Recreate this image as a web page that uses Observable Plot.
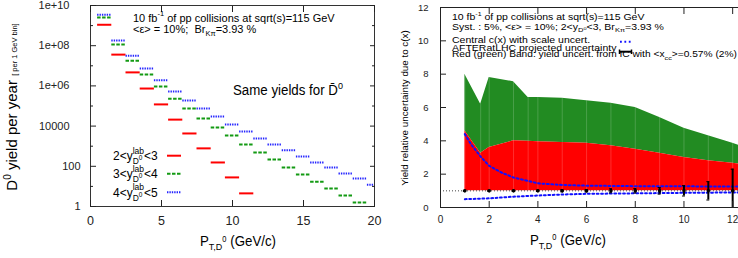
<!DOCTYPE html>
<html><head><meta charset="utf-8">
<script src="https://cdn.jsdelivr.net/npm/d3@7"></script>
<script src="https://cdn.jsdelivr.net/npm/@observablehq/plot@0.6"></script>
<style>
html,body{margin:0;padding:0;background:#fff;}
#wrap{position:relative;width:738px;height:258px;overflow:hidden;font-family:"Liberation Sans",Arial,sans-serif;background:#fff;}
#wrap svg{position:absolute;top:0;}
#overlay{left:0;pointer-events:none;white-space:pre;}
</style></head><body><div id="wrap"></div>
<script>
// ---------- Left panel data: D0 yield per year per 1 GeV bin ----------
const binWidth = 1;
const ptRed = [1,2,3,4,5,6,7,8,9,10,11];
const yieldRed = [1.1e9, 3.6e7, 4.7e6, 7.4e5, 1.2e5, 2.1e4, 4.3e3, 780, 155, 28, 4.5];
const ptGreen = [1,2,3,4,5,6,7,8,9,10,11,12,13,14,15,16,17,18,19];
const yieldGreen = [2.5e9, 1.15e8, 1.8e7, 3.7e6, 9.3e5, 2.3e5, 7.6e4, 2.4e4, 8.5e3, 3.4e3, 1.2e3, 490, 220, 87, 39, 17, 7.9, 3.5, 1.6];
const ptBlue = [1,2,3,4,5,6,7,8,9,10,11,12,13,14,15,16,17,18,19,20];
const yieldBlue = [3.5e9, 1.8e8, 3.2e7, 7.4e6, 1.9e6, 5.2e5, 1.9e5, 7.6e4, 3.0e4, 1.2e4, 5.4e3, 2.4e3, 1.2e3, 620, 310, 155, 87, 44, 25, 12];
const leftXTicks = [0,5,10,15,20];
const leftYTicksLong = [1e4, 1e6, 1e8, 1e10];
const leftYLabelsLong = ["10000","1e+06","1e+08","1e+10"];
const leftYTicksShort = [1, 100];
const leftYLabelsShort = ["1","100"];
const leftYMinor = [10, 1e3, 1e5, 1e7, 1e9];

// ---------- Right panel data: relative uncertainty ----------
const bandPt =       [1,   1.65, 2,   3,    3.6,  4,    5,    6,    7,    8,   9,    10,   11,  12,   13];
const bandGreenTop = [8.0, 6.2,  7.8, 7.55, 6.6,  6.6,  6.55, 6.4,  6.25, 6.0, 5.4,  4.75, 4.3, 3.85, 3.4];
const bandRedTop =   [4.6, 3.25, 3.6, 4.0,  3.97, 3.95, 3.9,  3.85, 3.7,  3.5, 3.25, 3.0,  2.8, 2.65, 2.5];
const bandBase = 1;
const scalePt =    [1,   1.25, 1.65, 2,    2.5, 3,    4,    5,    6,    8,    10,   12,   13];
const scaleUpper = [4.4, 3.8,  3.05, 2.5,  2.1, 1.8,  1.45, 1.35, 1.31, 1.28, 1.27, 1.26, 1.25];
const scaleLower = [0.5, 0.51, 0.53, 0.55, 0.6, 0.65, 0.72, 0.78, 0.82, 0.85, 0.88, 0.9,  0.91];
const errPt =   [1,    2,    3,    4,    5,    6,    7,    8,    9,   10,   11,   12];
const errSize = [0.03, 0.03, 0.03, 0.04, 0.06, 0.07, 0.12, 0.13, 0.2, 0.31, 0.55, 1.3];
const errCenter = 1;
const rightXTicks = [0,2,4,6,8,10,12];
const rightYTicks = [0,2,4,6,8,10,12];

const FONT = '"Liberation Sans",Arial,sans-serif';
const wrap = d3.select("#wrap");

const seg = (pts, vals) => pts.map((p,i)=>({pt:p, v:vals[i]}));
const fmtLong = d => leftYLabelsLong[leftYTicksLong.indexOf(d)];
const fmtShort = d => leftYLabelsShort[leftYTicksShort.indexOf(d)];

const left = Plot.plot({
  width: 392, height: 258,
  marginLeft: 90, marginRight: 18, marginTop: 5, marginBottom: 52,
  style: {fontFamily: FONT, background: "transparent", color: "#222"},
  x: {domain: [0,20], label: null},
  y: {type: "log", domain: [1, 1e10], label: null},
  marks: [
    Plot.ruleY(seg(ptRed, yieldRed), {y:"v", x1: d=>d.pt-binWidth/2, x2: d=>d.pt+binWidth/2, stroke:"#ff0000", strokeWidth:2, clip:true}),
    Plot.ruleY(seg(ptGreen, yieldGreen), {y:"v", x1: d=>d.pt-binWidth/2, x2: d=>d.pt+binWidth/2, stroke:"#139a13", strokeWidth:2, strokeDasharray:"3.5,1.5", clip:true}),
    Plot.ruleY(seg(ptBlue, yieldBlue), {y:"v", x1: d=>d.pt-binWidth/2, x2: d=>d.pt+binWidth/2, stroke:"#2424ff", strokeWidth:2, strokeDasharray:"1.4,1", clip:true}),
    Plot.ruleX([0,20], {stroke:"#333"}),
    Plot.ruleY([1,1e10], {stroke:"#333"}),
    Plot.axisX(leftXTicks, {tickSize:-6, tickPadding:16, fontSize:12.5, label:null}),
    Plot.axisX(leftXTicks, {anchor:"top", tickSize:-6, tickFormat:()=>"", label:null}),
    Plot.axisY(leftYTicksLong, {tickSize:-6, tickPadding:27, fontSize:11, tickFormat:fmtLong, label:null}),
    Plot.axisY(leftYTicksShort, {tickSize:-6, tickPadding:16, fontSize:11, tickFormat:fmtShort, label:null}),
    Plot.axisY(leftYMinor, {tickSize:-3, tickFormat:()=>"", label:null}),
    Plot.axisY(leftYTicksLong.concat(leftYTicksShort), {anchor:"right", tickSize:-5, tickFormat:()=>"", label:null}),
    Plot.axisY(leftYMinor, {anchor:"right", tickSize:-3, tickFormat:()=>"", label:null})
  ]
});
d3.select(left).style("left","0px");
wrap.node().appendChild(left);

const band = bandPt.map((p,i)=>({pt:p, g:bandGreenTop[i], r:bandRedTop[i]}));
const scl = scalePt.map((p,i)=>({pt:p, hi:scaleUpper[i], lo:scaleLower[i]}));
const err = errPt.map((p,i)=>({pt:p, e:errSize[i]}));

const right = Plot.plot({
  width: 362, height: 258,
  marginLeft: 64, marginRight: 0, marginTop: 7, marginBottom: 51,
  style: {fontFamily: FONT, background: "transparent", color: "#222"},
  x: {domain: [0, 12.24], label: null},
  y: {domain: [0, 12], label: null},
  marks: [
    Plot.areaY(band, {x:"pt", y1:"r", y2:"g", fill:"#228b22", clip:true}),
    Plot.areaY(band, {x:"pt", y1: ()=>bandBase, y2:"r", fill:"#ff0000", clip:true}),
    Plot.ruleX(band, {x:"pt", y1: ()=>bandBase, y2:"g", stroke:"#fff", strokeOpacity:0.18, clip:true}),
    Plot.ruleY([bandBase], {stroke:"#444", strokeDasharray:"1,2"}),
    Plot.line(scl, {x:"pt", y:"hi", stroke:"#1010ff", strokeWidth:2, strokeDasharray:"1.8,2.6", clip:true}),
    Plot.line(scl, {x:"pt", y:"lo", stroke:"#1010ff", strokeWidth:2, strokeDasharray:"1.8,2.6", clip:true}),
    Plot.ruleX(err, {x:"pt", y1: d=>errCenter-d.e, y2: d=>errCenter+d.e, stroke:"#000", strokeWidth:2, clip:true}),
    Plot.ruleY(err, {y: d=>errCenter+d.e, x1: d=>d.pt-0.06, x2: d=>d.pt+0.06, stroke:"#000", strokeWidth:1, clip:true}),
    Plot.ruleY(err, {y: d=>errCenter-d.e, x1: d=>d.pt-0.06, x2: d=>d.pt+0.06, stroke:"#000", strokeWidth:1, clip:true}),
    Plot.dot(err, {x:"pt", y: ()=>errCenter, r:1.8, fill:"#000"}),
    Plot.ruleX([0], {stroke:"#222"}),
    Plot.ruleY([0,12], {stroke:"#222"}),
    Plot.axisX(rightXTicks, {tickSize:-6, tickPadding:14, fontSize:10, label:null}),
    Plot.axisX(rightXTicks, {anchor:"top", tickSize:-6, tickFormat:()=>"", label:null}),
    Plot.axisY(rightYTicks, {tickSize:-6, tickPadding:18, fontSize:9.5, label:null})
  ]
});
d3.select(right).style("left","376px");
wrap.node().appendChild(right);

// ---------- overlay with rich text (sub/superscripts) ----------
const ov = wrap.append("svg").attr("id","overlay").attr("width",738).attr("height",258)
  .style("font-family", FONT);

function rich(x, y, parts, {rotate=false, anchor="start", size=12, fill="#000", sy=1} = {}) {
  const g = ov.append("g");
  const inner = g.append("g");
  let maxEnd = 0, prevEnd = 0, groupStart = 0;
  for (const p of parts) {
    const px = p.over ? groupStart : (p.follow ? prevEnd : maxEnd);
    const t = inner.append("text").attr("x", px).attr("y", p.b || 0)
      .attr("font-size", p.s || size).attr("fill", fill).style("white-space","pre").text(p.t);
    const w = t.node().getComputedTextLength();
    if (!p.over && !p.follow) groupStart = px;
    prevEnd = px + w;
    maxEnd = Math.max(maxEnd, prevEnd);
  }
  const shift = anchor === "middle" ? -maxEnd/2 : anchor === "end" ? -maxEnd : 0;
  inner.attr("transform", `translate(${shift},0)`);
  g.attr("transform", `translate(${x},${y})` + (rotate ? " rotate(-90)" : "") + ` scale(1,${sy})`);
  return g;
}

// Left panel annotations
rich(133, 21.7, [{t:"10 fb"},{t:"-1", s:7.5, b:-5},{t:" of pp collisions at sqrt(s)=115 GeV"}], {size:11, sy:1.05});
rich(133, 33.3, [{t:"<ε> = 10%;  Br"},{t:"Kπ", s:7.5, b:3},{t:"=3.93 %"}], {size:11, sy:1.05});
rich(233, 95, [{t:"Same yields for "},{t:"D\u0304"},{t:"0", s:9, b:-6}], {size:13.3, sy:1.07});
const legY = [160, 178, 196.5];
const legTxt = [["2","3"],["3","4"],["4","5"]];
legTxt.forEach((lt, i) => {
  rich(113, legY[i], [{t:lt[0]+"<y"},{t:"lab", s:8.5, b:-6},{t:"D", s:8.5, b:4, over:true},{t:"0", s:6.5, b:0, follow:true},{t:"<"+lt[1]}], {size:12, sy:1.05});
});
const legStyles = [
  {stroke:"#ff0000", dash:null},
  {stroke:"#139a13", dash:"3.5,1.5"},
  {stroke:"#2424ff", dash:"1.4,1"}
];
const legLineY = [155.7, 173.7, 192.3];
legStyles.forEach((s,i)=>{
  ov.append("line").attr("x1",167).attr("x2",181).attr("y1",legLineY[i]).attr("y2",legLineY[i])
    .attr("stroke",s.stroke).attr("stroke-width",2).attr("stroke-dasharray", s.dash);
});
rich(200, 246, [{t:"P"},{t:"T,D", s:9, b:4},{t:"0", s:7.5, b:-4, follow:true},{t:" (GeV/c)"}], {size:13.3, sy:1.1});
rich(17, 107, [{t:"D"},{t:"0", s:10, b:-6},{t:" yield per year "},{t:"[ per 1 GeV bin]", s:7.5}], {size:15, rotate:true, anchor:"middle"});

// Right panel annotations
const RS = 0.8;
rich(452, 19.5, [{t:"10 fb"},{t:"-1", s:7, b:-5},{t:" of pp collisions at sqrt(s)=115 GeV"}], {size:10.5, sy:RS});
rich(452, 29.5, [{t:"Syst. : 5%, <ε> = 10%; 2<y"},{t:"D", s:7.5, b:3},{t:"0", s:5.5, b:0, follow:true},{t:"<3, Br"},{t:"Kπ", s:7.5, b:3},{t:"=3.93 %"}], {size:10.5, sy:RS});
rich(452, 42.8, [{t:"Central c(x) with scale uncert."}], {size:10.5, sy:RS});
rich(452, 50.6, [{t:"AFTERatLHC projected uncertainty"}], {size:10.5, sy:RS});
rich(452, 57.4, [{t:"Red (green) Band: yield uncert. from IC with <x"},{t:"cc", s:7.2, b:3},{t:">=0.57% (2%)"}], {size:10.2, sy:RS});
ov.append("line").attr("x1",620).attr("x2",631).attr("y1",41.7).attr("y2",41.7)
  .attr("stroke","#1010ff").attr("stroke-width",2).attr("stroke-dasharray","1.8,2.6");
ov.append("line").attr("x1",619).attr("x2",632).attr("y1",51.7).attr("y2",51.7).attr("stroke","#000").attr("stroke-width",2);
ov.append("line").attr("x1",619.5).attr("x2",619.5).attr("y1",49.5).attr("y2",54).attr("stroke","#000").attr("stroke-width",1.5);
ov.append("line").attr("x1",631.5).attr("x2",631.5).attr("y1",49.5).attr("y2",54).attr("stroke","#000").attr("stroke-width",1.5);
rich(530, 244.5, [{t:"P"},{t:"T,D", s:9, b:4},{t:"0", s:7.5, b:-4, follow:true},{t:" (GeV/c)"}], {size:13.3, sy:1.1});
rich(407.5, 108, [{t:"Yield relative uncertainty due to c(x)"}], {size:9.8, rotate:true, anchor:"middle"});
</script>
</body></html>
